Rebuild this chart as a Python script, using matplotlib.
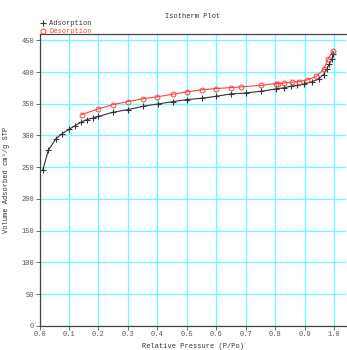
import matplotlib
matplotlib.use("Agg")
from matplotlib import pyplot as plt

plt.rcParams['font.family'] = ['Liberation Mono', 'DejaVu Sans Mono']

# adsorption branch
ads_p = [0.011, 0.030, 0.056, 0.077, 0.101, 0.121, 0.140, 0.160, 0.183, 0.200,
         0.248, 0.300, 0.352, 0.403, 0.454, 0.500, 0.550, 0.600, 0.650, 0.700,
         0.752, 0.802, 0.828, 0.853, 0.875, 0.898, 0.924, 0.947, 0.964, 0.975,
         0.983, 0.992, 0.996]
ads_v = [246, 277, 295, 303, 310, 315.5, 320.7, 325, 327.6, 330,
         336.5, 340.8, 346, 349.8, 353.4, 356.6, 358.6, 361.8, 365.5, 367,
         369.7, 373.4, 375, 377.6, 379, 381.3, 384.5, 389, 396, 405.5,
         412, 420, 428]
# desorption branch
des_p = [0.143, 0.200, 0.249, 0.300, 0.352, 0.400, 0.452, 0.500, 0.550, 0.600,
         0.650, 0.683, 0.751, 0.802, 0.810, 0.831, 0.856, 0.882, 0.909, 0.939,
         0.964, 0.979, 0.995]
des_v = [333, 342, 348.7, 353.4, 358, 361, 365, 368.7, 372, 374,
         375.5, 376.6, 379, 381.8, 381.8, 382.8, 384, 385, 387.7, 393,
         404, 420, 433]

fig = plt.figure(figsize=(3.47, 3.5), dpi=100)
ax = fig.add_axes([0.114, 0.069, 0.883, 0.834])

ax.plot(ads_p, ads_v, color='#333333', lw=0.8, marker='+', ms=4.5, mew=0.8,
        label='Adsorption')
ax.plot(des_p, des_v, color='#ff4040', lw=0.8, marker='o', ms=3.5, mew=0.7,
        mfc='none', label='Desorption')

ax.set_xlim(0, 1.04)
ax.set_ylim(0, 460)
ax.set_xticks([i / 10 for i in range(11)])
ax.set_xticklabels(['%.1f' % (i / 10) for i in range(11)])
ax.set_yticks(range(0, 451, 50))
ax.grid(True, color='#66ffff', lw=0.9)
ax.set_axisbelow(True)

ax.spines['right'].set_visible(False)
for s in ['left', 'bottom', 'top']:
    ax.spines[s].set_color('#444444')
    ax.spines[s].set_linewidth(0.9)

ax.tick_params(labelsize=5, colors='#555555', length=3, width=0.6, pad=1)
ax.set_xlabel('Relative Pressure (P/Po)', fontsize=5, color='#333333', labelpad=3)
ax.set_ylabel('Volume Adsorbed cm\u00b3/g STP', fontsize=5, color='#333333', labelpad=8)

fig.text(0.556, 0.948, 'Isotherm Plot', fontsize=5, color='#333333', ha='center')

leg = ax.legend(loc='lower left', bbox_to_anchor=(0.0, 0.995), fontsize=5,
                frameon=False, handlelength=1.0, handletextpad=0.4,
                borderaxespad=0, borderpad=0, labelspacing=0.2, markerfirst=True)
for line in leg.get_lines():
    line.set_linestyle('none')
for txt, c in zip(leg.get_texts(), ['#333333', '#ff4040']):
    txt.set_color(c)

fig.savefig('out.png', dpi=100)
